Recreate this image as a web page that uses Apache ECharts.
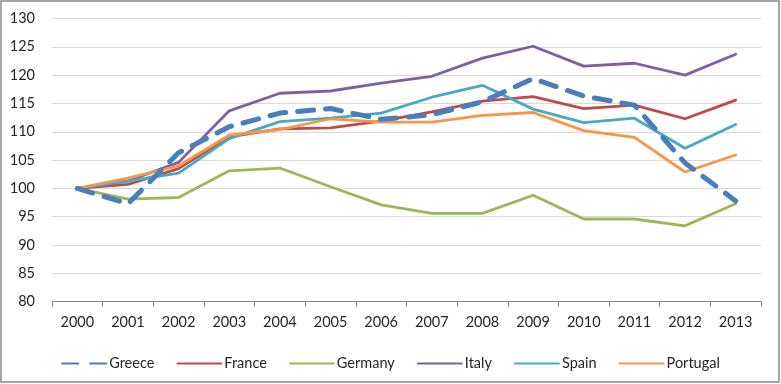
<!DOCTYPE html>
<html><head><meta charset="utf-8">
<script src="https://cdn.jsdelivr.net/npm/echarts@6/dist/echarts.min.js"></script>
<style>html,body{margin:0;padding:0;background:#fff}#main{width:781px;height:384px}</style>
</head><body><div id="main"></div>
<script>
const years = ['2000','2001','2002','2003','2004','2005','2006','2007','2008','2009','2010','2011','2012','2013'];
const greece   = [100, 97.3, 106.3, 110.9, 113.3, 114.1, 112.2, 113.0, 115.3, 119.4, 116.3, 114.7, 104.5, 97.8];
const france   = [100, 100.7, 103.5, 109.1, 110.5, 110.7, 111.9, 113.5, 115.4, 116.2, 114.1, 114.7, 112.3, 115.6];
const germany  = [100, 98.1, 98.4, 103.1, 103.6, 100.3, 97.1, 95.6, 95.6, 98.8, 94.6, 94.6, 93.4, 97.3];
const italy    = [100, 101.3, 104.6, 113.7, 116.8, 117.2, 118.6, 119.8, 123.0, 125.1, 121.6, 122.1, 120.0, 123.7];
const spain    = [100, 101.3, 102.7, 108.8, 111.8, 112.4, 113.3, 116.1, 118.2, 114.0, 111.6, 112.4, 107.1, 111.3];
const portugal = [100, 101.8, 104.0, 109.4, 110.4, 112.3, 111.7, 111.7, 112.9, 113.4, 110.2, 109.0, 102.9, 105.9];
const yTicks = {min: 80, max: 130, interval: 5};

const font = 'Lato, "Open Sans", sans-serif';
const txt = '#262626';
function line(name, data, color, extra) {
  return Object.assign({
    name, type: 'line', data, symbol: 'none', smooth: false,
    lineStyle: {color, width: 2.8, cap: 'round', join: 'round'},
    itemStyle: {color}
  }, extra || {});
}
const chart = echarts.init(document.getElementById('main'), null, {renderer: 'canvas'});
chart.setOption({
  animation: false,
  backgroundColor: '#fff',
  textStyle: {fontFamily: font},
  grid: {left: 52, right: 20, top: 18.5, bottom: 82.3, containLabel: false},
  xAxis: {
    type: 'category', data: years, boundaryGap: true,
    axisLine: {lineStyle: {color: '#868686', width: 1}},
    axisTick: {show: true, length: 5, lineStyle: {color: '#868686'}},
    axisLabel: {color: txt, fontSize: 14.5, fontFamily: font, margin: 13}
  },
  yAxis: {
    type: 'value', min: yTicks.min, max: yTicks.max, interval: yTicks.interval,
    axisLine: {show: false},
    axisTick: {show: false},
    splitLine: {lineStyle: {color: '#d9d9d9', width: 1}},
    axisLabel: {color: txt, fontSize: 14.5, fontFamily: font, margin: 17}
  },
  legend: {
    top: 351, left: 'center',
    itemWidth: 44, itemHeight: 14, itemGap: 22,
    itemStyle: {opacity: 0},
    textStyle: {color: txt, fontSize: 14.5, fontFamily: font, padding: [0, 0, 0, -2]},
    data: ['Greece','France','Germany','Italy','Spain','Portugal']
  },
  graphic: [{type: 'rect', shape: {x: 1, y: 1, width: 778, height: 381}, style: {fill: 'none', stroke: '#8a8a8a', lineWidth: 1.5}, silent: true}],
  series: [
    line('Greece', greece, '#4a7ebb', {z: 10, lineStyle: {color: '#4a7ebb', width: 5, type: [16, 12], cap: 'round', join: 'round'}}),
    line('France', france, '#be4b48'),
    line('Germany', germany, '#98b954'),
    line('Italy', italy, '#7d60a0'),
    line('Spain', spain, '#46aac5'),
    line('Portugal', portugal, '#f79646')
  ]
});
</script></body></html>
